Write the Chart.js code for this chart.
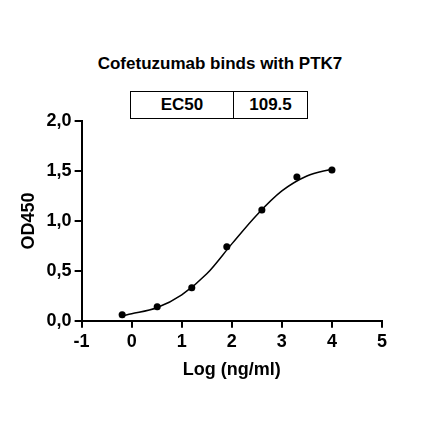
<!DOCTYPE html><html><head><meta charset="utf-8">
<script src="https://cdn.jsdelivr.net/npm/chart.js@4"></script>
<style>body{margin:0;background:#fff;font-family:Arial,"Liberation Sans",sans-serif}
#t{position:absolute;left:0;width:440px;top:54px;text-align:center;font-weight:bold;font-size:17px}
#b{position:absolute;left:130px;top:91px;width:176px;height:26px;border:1.5px solid #000;display:flex;font-weight:bold;font-size:17px}
#b div{display:flex;align-items:center;justify-content:center}
</style></head><body>
<div id="t">Cofetuzumab binds with PTK7</div>
<div id="b"><div style="width:102px;border-right:1.5px solid #000">EC50</div><div style="flex:1">109.5</div></div>
<canvas id="c" width="440" height="441" style="position:absolute;left:0;top:0"></canvas>
<script>
const logConc=[-0.19,0.51,1.20,1.90,2.60,3.30,4.00];
const od450=[0.06,0.14,0.33,0.74,1.11,1.44,1.51];
const curveX=[-0.19,0,0.5,1,1.5,2,2.5,3,3.5,4];
const curveY=[0.05,0.07,0.13,0.26,0.47,0.77,1.06,1.30,1.45,1.52];
const xTicks=[-1,0,1,2,3,4,5];
const F={family:'Arial',size:18,weight:'bold'};
const G={display:true,drawOnChartArea:false,tickLength:7,tickColor:'#000',tickWidth:2,lineWidth:2,color:'#000'};
new Chart(document.getElementById('c'),{type:'scatter',data:{datasets:[
{data:logConc.map((x,i)=>({x,y:od450[i]})),backgroundColor:'#000',pointRadius:3.5,showLine:false},
{data:curveX.map((x,i)=>({x,y:curveY[i]})),borderColor:'#000',borderWidth:1.5,pointRadius:0,showLine:true,cubicInterpolationMode:'monotone'}]},
options:{responsive:false,animation:false,layout:{padding:{top:121,right:58,left:14,bottom:56}},
plugins:{legend:{display:false},tooltip:{enabled:false}},
scales:{x:{type:'linear',min:-1,max:5,afterBuildTicks:a=>{a.ticks=xTicks.map(v=>({value:v}))},grid:G,border:{display:true,color:'#000',width:2},ticks:{color:'#000',font:F},title:{display:true,text:'Log (ng/ml)',color:'#000',font:F}},
y:{min:0,max:2,ticks:{stepSize:0.5,color:'#000',font:F,callback:v=>v.toFixed(1).replace('.',',')},grid:G,border:{display:true,color:'#000',width:2},title:{display:true,text:'OD450',color:'#000',font:F}}}}});
</script></body></html>
